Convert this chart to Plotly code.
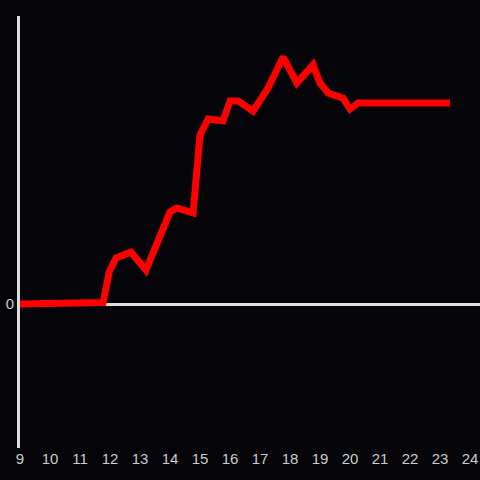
import plotly.graph_objects as go

hours = [9, 11.1, 11.27, 11.77, 11.97, 12.2, 12.7, 13.2, 14.0, 14.23, 14.77, 15.0, 15.27,
         15.77, 16.0, 16.27, 16.77, 17.27, 17.77, 18.23, 18.77, 19.0, 19.27, 19.77, 20.0,
         20.27, 23.33]
values = [0, 0, 1, 1, 22, 32, 36, 23.6, 64, 66.7, 63.2, 117.4, 128.5,
          127.1, 141, 141, 134, 150, 171.5, 153.5, 166, 153.5, 146.5, 143, 135.4,
          139.6, 139.6]
x_ticks = list(range(9, 25))

fig = go.Figure()
fig.add_trace(go.Scatter(x=hours, y=values, mode="lines",
                         line=dict(color="#ff0000", width=7), hoverinfo="skip"))

fig.update_layout(
    width=480, height=480,
    margin=dict(l=20, r=0, t=16, b=32),
    paper_bgcolor="#050408", plot_bgcolor="#050408",
    showlegend=False,
    font=dict(family="Liberation Sans, Arial, sans-serif", size=15, color="#cccccc"),
    xaxis=dict(range=[9, 24.3333], tickvals=x_ticks, ticktext=[str(t) for t in x_ticks],
               showgrid=False, zeroline=False, showline=False, ticks=""),
    yaxis=dict(range=[-100, 200], tickvals=[0], ticktext=["0"],
               showgrid=False, zeroline=True, zerolinecolor="#dddddd", zerolinewidth=3,
               showline=True, linecolor="#dddddd", linewidth=3, ticks=""),
)

fig.write_html("out.html", config={"displayModeBar": False},
               post_script="document.body.style.margin='0';document.body.style.overflow='hidden';")
